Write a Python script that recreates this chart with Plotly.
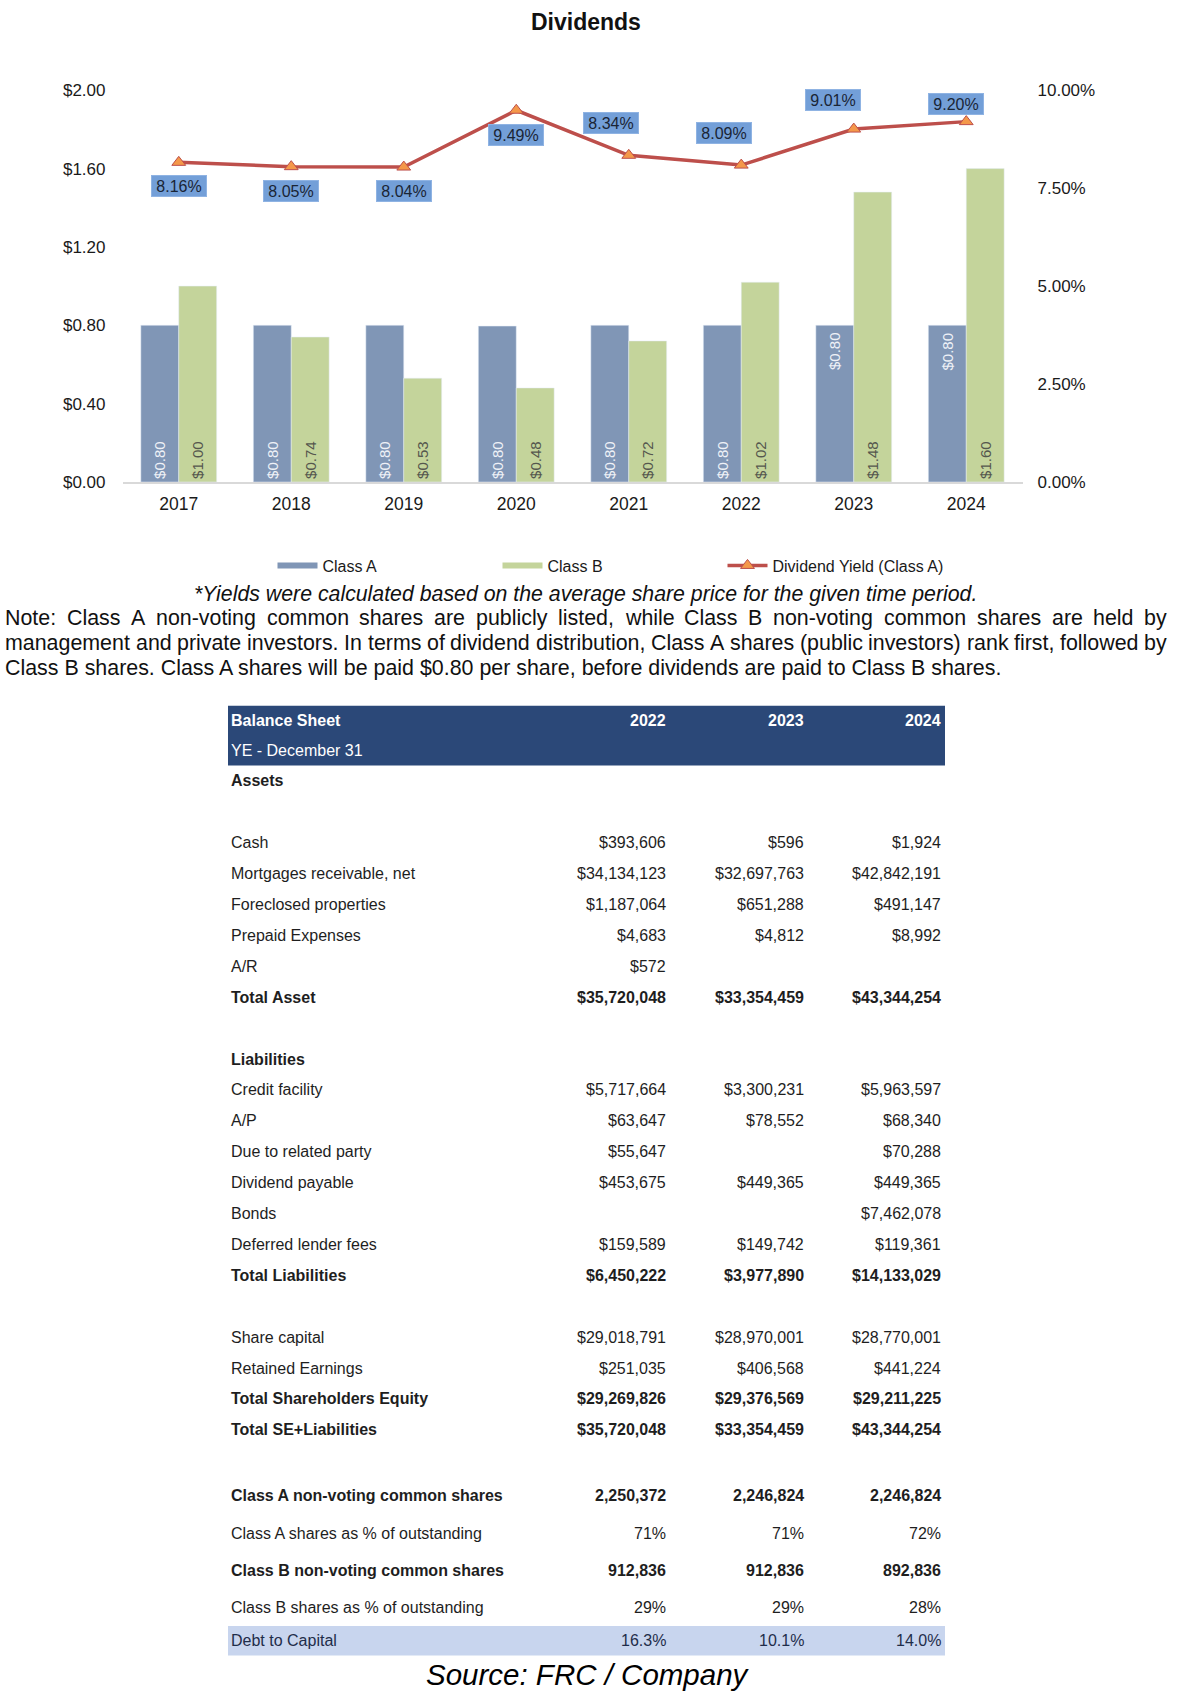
import plotly.graph_objects as go

W, H = 1178, 1706
FONT = "Liberation Sans, Arial, Helvetica, sans-serif"

# ---------------- data ----------------
years = ["2017", "2018", "2019", "2020", "2021", "2022", "2023", "2024"]
class_a = [0.80, 0.80, 0.80, 0.796, 0.80, 0.80, 0.80, 0.80]
class_b = [1.00, 0.74, 0.53, 0.48, 0.72, 1.02, 1.48, 1.60]
yield_a = [8.16, 8.05, 8.04, 9.49, 8.34, 8.09, 9.01, 9.20]

bs_years = ["2022", "2023", "2024"]
bs_labels = ["Assets", "", "Cash", "Mortgages receivable, net", "Foreclosed properties",
             "Prepaid Expenses", "A/R", "Total Asset", "", "Liabilities", "Credit facility",
             "A/P", "Due to related party", "Dividend payable", "Bonds", "Deferred lender fees",
             "Total Liabilities", "", "Share capital", "Retained Earnings",
             "Total Shareholders Equity", "Total SE+Liabilities", "",
             "Class A non-voting common shares", "Class A shares as % of outstanding",
             "Class B non-voting common shares", "Class B shares as % of outstanding",
             "Debt to Capital"]
bs_2022 = [None, None, 393606, 34134123, 1187064, 4683, 572, 35720048, None, None,
           5717664, 63647, 55647, 453675, None, 159589, 6450222, None, 29018791, 251035,
           29269826, 35720048, None, 2250372, 71, 912836, 29, 16.3]
bs_2023 = [None, None, 596, 32697763, 651288, 4812, None, 33354459, None, None,
           3300231, 78552, None, 449365, None, 149742, 3977890, None, 28970001, 406568,
           29376569, 33354459, None, 2246824, 71, 912836, 29, 10.1]
bs_2024 = [None, None, 1924, 42842191, 491147, 8992, None, 43344254, None, None,
           5963597, 68340, 70288, 449365, 7462078, 119361, 14133029, None, 28770001, 441224,
           29211225, 43344254, None, 2246824, 72, 892836, 28, 14.0]
bs_kind = ["usd"] * 23 + ["num", "pct0", "num", "pct0", "pct1"]
bs_bold = ["Assets", "Total Asset", "Liabilities", "Total Liabilities",
           "Total Shareholders Equity", "Total SE+Liabilities",
           "Class A non-voting common shares", "Class B non-voting common shares"]

note_italic = "*Yields were calculated based on the average share price for the given time period."
note_lines = [
    "Note: Class A non-voting common shares are publicly listed, while Class B non-voting common shares are held by",
    "management and private investors. In terms of dividend distribution, Class A shares (public investors) rank first, followed by",
    "Class B shares. Class A shares will be paid $0.80 per share, before dividends are paid to Class B shares.",
]
source_text = "Source: FRC / Company"

# ---------------- style / layout helpers ----------------
C_A = "#8096b6"
C_B = "#c4d49b"
C_LINE = "#bd4f4b"
C_MARK = "#f4984a"
C_LABEL = "#739fd8"
C_HEAD = "#2b4878"
C_DEBT = "#c8d5ee"
TXT = "#1e1e1e"

def px(x):
    return x / W

def py(y):
    return 1 - y / H

# Arial / Liberation Sans advance widths (1/1000 em)
AW = {' ': 278, '!': 278, '$': 556, '%': 889, '(': 333, ')': 333, '*': 389, ',': 278,
      '-': 333, '.': 278, '/': 278, ':': 278, ';': 278,
      'A': 667, 'B': 667, 'C': 722, 'D': 722, 'E': 667, 'F': 611, 'G': 778, 'H': 722,
      'I': 278, 'J': 500, 'K': 667, 'L': 556, 'M': 833, 'N': 722, 'O': 778, 'P': 667,
      'Q': 778, 'R': 722, 'S': 667, 'T': 611, 'U': 722, 'V': 667, 'W': 944, 'X': 667,
      'Y': 667, 'Z': 611,
      'a': 556, 'b': 556, 'c': 500, 'd': 556, 'e': 556, 'f': 278, 'g': 556, 'h': 556,
      'i': 222, 'j': 222, 'k': 500, 'l': 222, 'm': 833, 'n': 556, 'o': 556, 'p': 556,
      'q': 556, 'r': 333, 's': 500, 't': 278, 'u': 556, 'v': 500, 'w': 722, 'x': 500,
      'y': 500, 'z': 500}
for d in "0123456789":
    AW[d] = 556

def tw(s, size):
    return sum(AW.get(c, 556) for c in s) / 1000.0 * size

annotations = []
shapes = []

def add_text(text, x, y, size, color=TXT, xanchor="left", yanchor="middle"):
    annotations.append(dict(text=text, x=px(x), y=py(y), xref="paper", yref="paper",
                            xanchor=xanchor, yanchor=yanchor, showarrow=False,
                            borderpad=0, borderwidth=0,
                            font=dict(family=FONT, size=size, color=color)))

fig = go.Figure()

# legend proxies (line-shaped swatches like the original)
fig.add_trace(go.Scatter(x=[None], y=[None], mode="lines", name="Class A",
                         line=dict(color=C_A, width=6)))
fig.add_trace(go.Scatter(x=[None], y=[None], mode="lines", name="Class B",
                         line=dict(color=C_B, width=6)))

a_text = [f"${v:.2f}" for v in class_a]
a_text_inside = [t if i < 6 else "" for i, t in enumerate(a_text)]
fig.add_trace(go.Bar(x=years, y=class_a, name="Class A", marker_color=C_A, showlegend=False,
                     text=a_text_inside, textposition="inside", insidetextanchor="start",
                     textangle=-90, textfont=dict(family=FONT, size=15, color="#eef1f7")))
fig.add_trace(go.Bar(x=years, y=class_b, name="Class B", marker_color=C_B, showlegend=False,
                     text=[f"${v:.2f}" for v in class_b], textposition="inside",
                     insidetextanchor="start", textangle=-90,
                     textfont=dict(family=FONT, size=15, color="#55574e")))
fig.add_trace(go.Scatter(x=years, y=yield_a, name="Dividend Yield (Class A)", yaxis="y2",
                         mode="lines+markers",
                         line=dict(color=C_LINE, width=3.5),
                         marker=dict(symbol="triangle-up", size=12, color=C_MARK,
                                     line=dict(color=C_LINE, width=1))))

# Class A labels drawn near the bar top for 2023 / 2024 (category index positions)
for i in (6, 7):
    annotations.append(dict(text=a_text[i], x=i, y=class_a[i], xref="x", yref="y",
                            xshift=-19, yshift=-7, yanchor="top", xanchor="center",
                            textangle=-90, showarrow=False, borderpad=0, borderwidth=0,
                            font=dict(family=FONT, size=15, color="#eef1f7")))

# yield data labels
label_dx = [0, 0, 0, 0, -18, -17, -21, -10]
label_dy = [24, 24, 24, 24.5, -32, -32, -29, -18]
for i, v in enumerate(yield_a):
    annotations.append(dict(text=f"{v:.2f}%", x=i, y=v, xref="x", yref="y2",
                            xshift=label_dx[i], yshift=-label_dy[i], showarrow=False,
                            bgcolor=C_LABEL, bordercolor="#8fb3e3", borderwidth=1,
                            borderpad=0, width=54, height=20,
                            font=dict(family=FONT, size=16, color="#1a2535")))

# title
add_text("<b>Dividends</b>", 586, 13, 23, "#111111", xanchor="center")

# notes
add_text(f"<i>{note_italic}</i>", 585, 591.5, 21.3, "#111111", xanchor="center")
NOTE_SIZE = 21.4
note_left, note_right = 5, 1167
note_y = [615.8, 641, 666]
for li, line in enumerate(note_lines):
    if li < len(note_lines) - 1:
        words = line.split(" ")
        widths = [tw(w, NOTE_SIZE) for w in words]
        gap = (note_right - note_left - sum(widths)) / (len(words) - 1)
        x = note_left
        for w, wd in zip(words, widths):
            add_text(w, x, note_y[li], NOTE_SIZE, "#111111")
            x += wd + gap
    else:
        add_text(line, note_left, note_y[li], NOTE_SIZE, "#111111")

# ---------------- balance sheet table ----------------
T_L, T_R = 228, 945
LBL_X = 231
COL_R = [666, 804, 941]
TS = 16
head_top, head_mid, head_bot = 704.5, 735.2, 765
shapes.append(dict(type="rect", xref="paper", yref="paper", x0=px(T_L), x1=px(T_R),
                   y0=py(head_top), y1=py(head_bot), fillcolor=C_HEAD, line=dict(width=0),
                   layer="below"))
add_text("<b>Balance Sheet</b>", LBL_X, (head_top + head_mid) / 2, TS, "#ffffff")
for c, yr in zip(COL_R, bs_years):
    add_text(f"<b>{yr}</b>", c, (head_top + head_mid) / 2, TS, "#ffffff", xanchor="right")
add_text("YE - December 31", LBL_X, (head_mid + head_bot) / 2, TS, "#ffffff")

row_h = [31.25] * 23 + [39.25, 36.9, 37.9, 37.4, 29.8]

def fmt(v, kind):
    if v is None:
        return ""
    if kind == "usd":
        return f"${v:,.0f}"
    if kind == "num":
        return f"{v:,.0f}"
    if kind == "pct0":
        return f"{v:.0f}%"
    return f"{v:.1f}%"

y = head_bot
for i, lab in enumerate(bs_labels):
    h = row_h[i]
    yc = y + h / 2
    color = TXT
    if lab == "Debt to Capital":
        shapes.append(dict(type="rect", xref="paper", yref="paper", x0=px(T_L), x1=px(T_R),
                           y0=py(y), y1=py(y + h), fillcolor=C_DEBT, line=dict(width=0),
                           layer="below"))
        color = "#1f2d4a"
    bold = lab in bs_bold
    if lab:
        add_text(f"<b>{lab}</b>" if bold else lab, LBL_X, yc, TS, color)
    for c, vals in zip(COL_R, (bs_2022, bs_2023, bs_2024)):
        s = fmt(vals[i], bs_kind[i])
        if s:
            add_text(f"<b>{s}</b>" if bold else s, c, yc, TS, color, xanchor="right")
    y += h

add_text(f"<i>{source_text}</i>", 588, 1684, 29.5, "#000000", xanchor="center")

# ---------------- layout ----------------
fig.update_layout(
    width=W, height=H,
    margin=dict(l=0, r=0, t=0, b=0),
    paper_bgcolor="white", plot_bgcolor="white",
    font=dict(family=FONT, size=16, color=TXT),
    barmode="group", bargap=0.326, bargroupgap=0,
    xaxis=dict(domain=[px(122.5), px(1022.5)], type="category", range=[-0.5, 7.5],
               showline=True, linecolor="#d9d9d9", linewidth=1.5, ticks="",
               showgrid=False, zeroline=False, ticklabelstandoff=5,
               tickfont=dict(family=FONT, size=17.5, color="#1a1a1a")),
    yaxis=dict(domain=[py(478.3), py(82.2)], range=[0, 2], dtick=0.4, tickprefix="$",
               tickformat=".2f", showgrid=False, zeroline=False, showline=False,
               ticks="", ticklabelstandoff=16,
               tickfont=dict(family=FONT, size=17, color="#1a1a1a")),
    yaxis2=dict(overlaying="y", side="right", anchor="x", range=[0, 10], dtick=2.5,
                ticksuffix="%", tickformat=".2f", showgrid=False, zeroline=False,
                showline=False, ticks="", ticklabelstandoff=14,
                tickfont=dict(family=FONT, size=17, color="#1a1a1a")),
    legend=dict(orientation="h", x=px(272.5), xanchor="left", y=py(562.8), yanchor="middle",
                entrywidth=170, entrywidthmode="pixels", itemwidth=40,
                bgcolor="rgba(0,0,0,0)",
                font=dict(family=FONT, size=16, color="#1a1a1a"), tracegroupgap=0),
    annotations=annotations,
    shapes=shapes,
)

fig.write_html("out.html", config={"displayModeBar": False},
               post_script="document.body.style.margin='0';document.body.style.overflow='hidden';")
